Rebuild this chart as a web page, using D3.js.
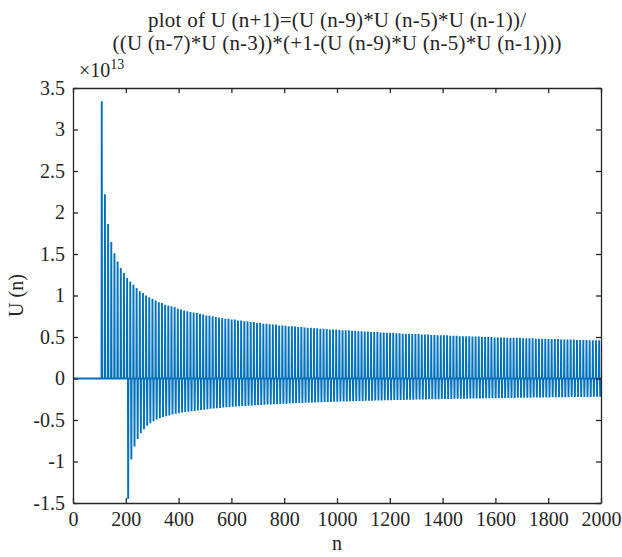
<!DOCTYPE html>
<html>
<head>
<meta charset="utf-8">
<script src="https://d3js.org/d3.v7.min.js"></script>
<style>
  body { margin: 0; background: #fff; }
  text { font-family: "Liberation Serif", "DejaVu Serif", serif; fill: #262626; }
</style>
</head>
<body>
<svg id="vis"></svg>
<script>
  var width = 622
  var height = 557
  var margin = {top: 88, right: 21, bottom: 54, left: 73}

  // values are in units of 1e13 (the axis shows "x10^13")
  var xTicks = [0, 200, 400, 600, 800, 1000, 1200, 1400, 1600, 1800, 2000]
  var yTicks = [-1.5, -1, -0.5, 0, 0.5, 1, 1.5, 2, 2.5, 3, 3.5]
  var nMax = 2000

  // positive spikes: first at n = 109, one every 12 steps
  var posStart = 109
  var posStep = 12
  var posPeaks = [
    3.34, 2.22, 1.86, 1.645, 1.51, 1.41, 1.33, 1.27, 1.21, 1.17,
    1.13, 1.09, 1.05, 1.03, 1.00, 0.98, 0.96, 0.94, 0.92, 0.91,
    0.89, 0.88, 0.87, 0.86, 0.84, 0.83, 0.82, 0.81, 0.80, 0.795,
    0.79, 0.78, 0.77, 0.76, 0.755, 0.75, 0.74, 0.735, 0.73, 0.72,
    0.72, 0.71, 0.71, 0.70, 0.70, 0.69, 0.69, 0.68, 0.68, 0.67,
    0.67, 0.66, 0.66, 0.655, 0.65, 0.65, 0.64, 0.64, 0.635, 0.63,
    0.63, 0.625, 0.62, 0.62, 0.615, 0.61, 0.61, 0.605, 0.605, 0.60,
    0.60, 0.595, 0.59, 0.59, 0.59, 0.585, 0.58, 0.58, 0.58, 0.575,
    0.575, 0.57, 0.57, 0.565, 0.565, 0.56, 0.56, 0.56, 0.555, 0.555,
    0.55, 0.55, 0.55, 0.545, 0.545, 0.54, 0.54, 0.54, 0.535, 0.535,
    0.535, 0.53, 0.53, 0.53, 0.525, 0.525, 0.52, 0.52, 0.52, 0.52,
    0.515, 0.515, 0.515, 0.51, 0.51, 0.51, 0.51, 0.505, 0.505, 0.505,
    0.50, 0.50, 0.50, 0.50, 0.495, 0.495, 0.495, 0.495, 0.49, 0.49,
    0.49, 0.49, 0.49, 0.485, 0.485, 0.485, 0.485, 0.48, 0.48, 0.48,
    0.48, 0.475, 0.475, 0.475, 0.475, 0.47, 0.47, 0.47, 0.47, 0.47,
    0.465, 0.465, 0.465, 0.465, 0.46, 0.46, 0.46, 0.46
  ]

  // negative spikes: first at n = 209, one every 12 steps
  var negStart = 209
  var negStep = 12
  var negPeaks = [
    -1.45, -0.975, -0.82, -0.73, -0.66, -0.61, -0.57, -0.54, -0.515, -0.495,
    -0.48, -0.465, -0.455, -0.445, -0.435, -0.425, -0.42, -0.41, -0.405, -0.40,
    -0.395, -0.39, -0.385, -0.38, -0.375, -0.37, -0.365, -0.36, -0.357, -0.354,
    -0.35, -0.347, -0.344, -0.341, -0.338, -0.335, -0.332, -0.33, -0.327, -0.325,
    -0.322, -0.32, -0.318, -0.316, -0.314, -0.312, -0.310, -0.308, -0.306, -0.304,
    -0.303, -0.301, -0.299, -0.298, -0.296, -0.294, -0.293, -0.291, -0.290, -0.288,
    -0.287, -0.286, -0.284, -0.283, -0.282, -0.280, -0.279, -0.278, -0.277, -0.276,
    -0.274, -0.273, -0.272, -0.271, -0.270, -0.269, -0.268, -0.267, -0.266, -0.265,
    -0.264, -0.263, -0.262, -0.261, -0.260, -0.259, -0.258, -0.258, -0.257, -0.256,
    -0.255, -0.254, -0.253, -0.253, -0.252, -0.251, -0.250, -0.250, -0.249, -0.248,
    -0.247, -0.247, -0.246, -0.245, -0.245, -0.244, -0.243, -0.243, -0.242, -0.241,
    -0.241, -0.240, -0.239, -0.239, -0.238, -0.238, -0.237, -0.236, -0.236, -0.235,
    -0.235, -0.234, -0.234, -0.233, -0.232, -0.232, -0.231, -0.231, -0.230, -0.230,
    -0.229, -0.229, -0.228, -0.228, -0.227, -0.227, -0.226, -0.226, -0.225, -0.225,
    -0.224, -0.224, -0.223, -0.223, -0.223, -0.222, -0.222, -0.221, -0.221, -0.220
  ]

  // build the sequence: zero everywhere except the spikes
  var spikes = []
  posPeaks.forEach((v, i) => spikes.push({n: posStart + i * posStep, v: v}))
  negPeaks.forEach((v, i) => spikes.push({n: negStart + i * negStep, v: v}))
  spikes.sort((a, b) => a.n - b.n)

  var points = [[1, 0]]
  spikes.forEach(s => {
    points.push([s.n - 1, 0])
    points.push([s.n, s.v])
    points.push([s.n + 1, 0])
  })
  points.push([nMax, 0])

  var svg = d3.select('#vis')
    .attr('width', width)
    .attr('height', height)

  var x = d3.scaleLinear()
    .domain([0, nMax])
    .range([margin.left, width - margin.right])

  var y = d3.scaleLinear()
    .domain([-1.5, 3.5])
    .range([height - margin.bottom, margin.top])

  // the data line
  svg.append('path')
    .datum(points)
    .attr('fill', 'none')
    .attr('stroke', '#0072BD')
    .attr('stroke-width', 1.9)
    .attr('stroke-linejoin', 'bevel')
    .attr('d', d3.line().x(d => x(d[0])).y(d => y(d[1])))

  var fmt = d => String(d).replace('\u2212', '-')
  var tickLen = 5

  var xAxis = svg.append('g')
    .attr('transform', 'translate(0,' + y(-1.5) + ')')
    .call(d3.axisBottom(x).tickValues(xTicks).tickSizeInner(-tickLen).tickSizeOuter(0).tickPadding(6).tickFormat(fmt))

  var xTop = svg.append('g')
    .attr('transform', 'translate(0,' + y(3.5) + ')')
    .call(d3.axisTop(x).tickValues(xTicks).tickSizeInner(-tickLen).tickSizeOuter(0).tickFormat(''))

  var yAxis = svg.append('g')
    .attr('transform', 'translate(' + x(0) + ',0)')
    .call(d3.axisLeft(y).tickValues(yTicks).tickSizeInner(-tickLen).tickSizeOuter(0).tickPadding(8).tickFormat(fmt))

  var yRight = svg.append('g')
    .attr('transform', 'translate(' + x(nMax) + ',0)')
    .call(d3.axisRight(y).tickValues(yTicks).tickSizeInner(-tickLen).tickSizeOuter(0).tickFormat(''))

  svg.selectAll('.domain, .tick line')
    .attr('stroke', '#262626')
    .attr('stroke-width', 1.3)

  svg.selectAll('.tick text')
    .style('font-size', '20px')
    .attr('fill', '#262626')

  xAxis.selectAll('.tick text').attr('dy', '0.85em')

  // exponent label
  var expo = svg.append('text')
    .attr('x', x(0) + 6)
    .attr('y', y(3.5) - 11)
    .style('font-size', '20px')
  expo.append('tspan').text('\u00d710')
  expo.append('tspan').attr('dy', -8).style('font-size', '14px').text('13')

  // axis labels
  svg.append('text')
    .attr('x', (x(0) + x(nMax)) / 2)
    .attr('y', 550)
    .attr('text-anchor', 'middle')
    .style('font-size', '20px')
    .text('n')

  svg.append('text')
    .attr('transform', 'translate(23,' + ((y(-1.5) + y(3.5)) / 2) + ') rotate(-90)')
    .attr('text-anchor', 'middle')
    .style('font-size', '20px')
    .text('U (n)')

  // title
  var title = svg.append('text')
    .attr('text-anchor', 'middle')
    .style('font-size', '21px')
    .attr('fill', '#000')
  title.append('tspan')
    .attr('x', (x(0) + x(nMax)) / 2)
    .attr('y', 27)
    .attr('textLength', 378)
    .attr('lengthAdjust', 'spacing')
    .text('plot of U (n+1)=(U (n-9)*U (n-5)*U (n-1))/')
  title.append('tspan')
    .attr('x', (x(0) + x(nMax)) / 2)
    .attr('y', 50)
    .attr('textLength', 449)
    .attr('lengthAdjust', 'spacing')
    .text('((U (n-7)*U (n-3))*(+1-(U (n-9)*U (n-5)*U (n-1))))')
</script>
</body>
</html>
